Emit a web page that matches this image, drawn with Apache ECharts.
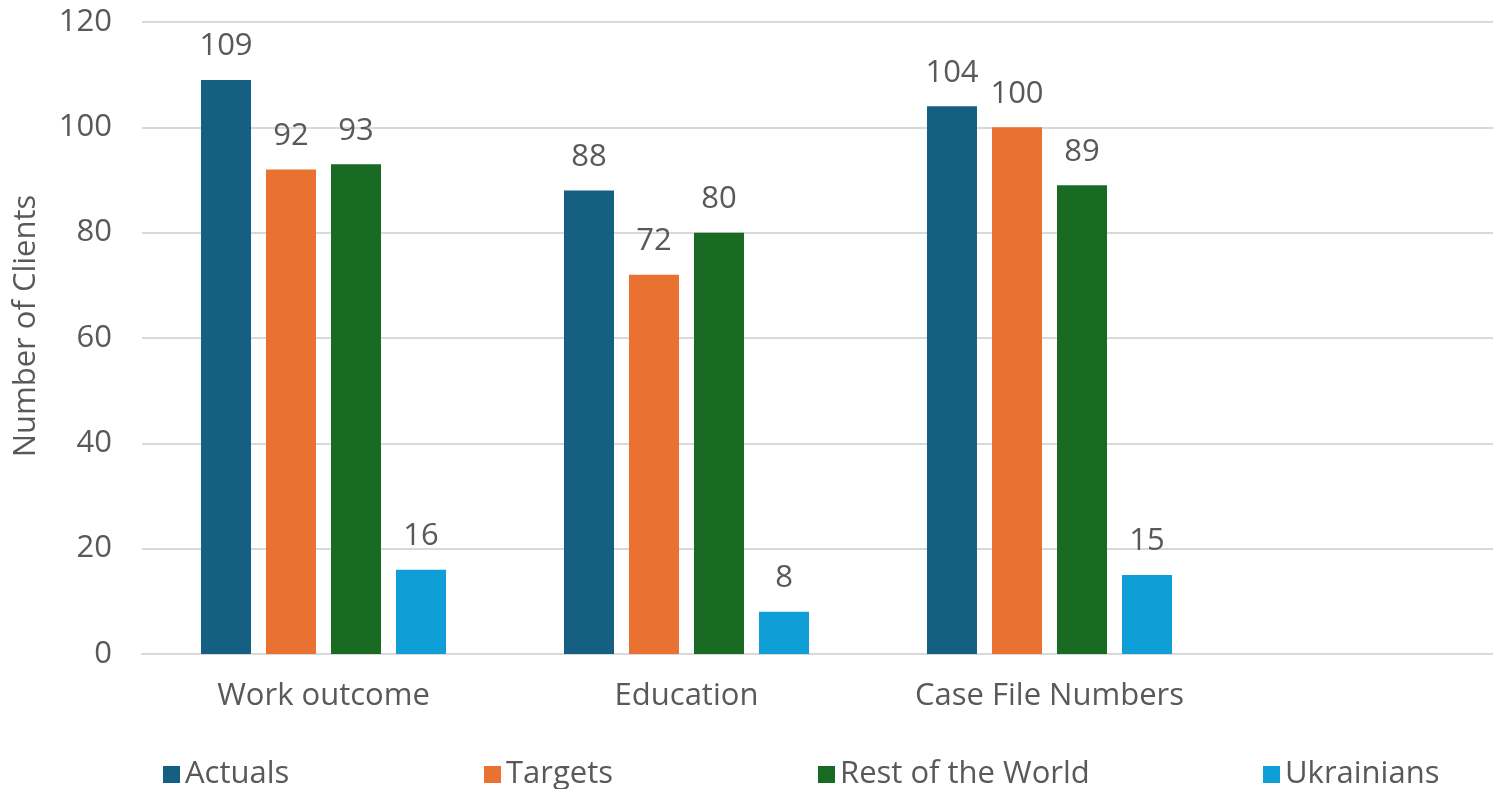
<!DOCTYPE html>
<html><head><meta charset="utf-8">
<script src="https://cdn.jsdelivr.net/npm/echarts@6/dist/echarts.min.js"></script>
<style>html,body{margin:0;padding:0;overflow:hidden;background:#fff;width:1493px;height:789px}#c{width:1600px;height:789px}</style>
</head><body><div id="c"></div>
<script>
const categories = ['Work outcome', 'Education', 'Case File Numbers', ''];
const actuals = [109, 88, 104, null];
const targets = [92, 72, 100, null];
const restOfWorld = [93, 80, 89, null];
const ukrainians = [16, 8, 15, null];
const seriesNames = ['Actuals', 'Targets', 'Rest of the World', 'Ukrainians'];
const colors = ['#156082', '#E97132', '#196B24', '#0F9ED5'];
const yTicks = [0, 20, 40, 60, 80, 100, 120];

const font = '"Open Sans", sans-serif';
const fs = 31;
const txt = '#595959';
const legendLefts = [158, 479, 813, 1258];
const chart = echarts.init(document.getElementById('c'), null, {renderer: 'canvas'});
const mk = (name, data, i) => ({
  name, type: 'bar', data, barGap: '30%', barCategoryGap: '32.5%',
  itemStyle: {color: colors[i]},
  label: {show: true, position: 'top', distance: 18, color: txt, fontSize: fs, fontFamily: font},
  emphasis: {disabled: true}
});
chart.setOption({
  animation: false,
  color: colors,
  grid: {left: 142, right: 6, top: 22, bottom: 135, containLabel: false},
  legend: seriesNames.map((n, i) => ({
    data: [n], left: legendLefts[i], top: 754, itemWidth: 17, itemHeight: 17, itemGap: 0,
    icon: 'rect', textStyle: {color: txt, fontSize: fs, fontFamily: font}
  })),
  xAxis: {
    type: 'category', data: categories,
    axisLine: {lineStyle: {color: '#d9d9d9', width: 2}},
    axisTick: {show: false},
    axisLabel: {color: txt, fontSize: fs, fontFamily: font, margin: 27}
  },
  yAxis: {
    type: 'value', min: yTicks[0], max: yTicks[yTicks.length - 1], interval: 20,
    name: 'Number of Clients', nameLocation: 'middle', nameGap: 100, nameRotate: 90,
    nameTextStyle: {color: txt, fontSize: fs, fontFamily: font, padding: [0, 0, 0, 24]},
    axisLine: {show: false}, axisTick: {show: false},
    axisLabel: {color: txt, fontSize: fs, fontFamily: font, margin: 30},
    splitLine: {lineStyle: {color: '#d9d9d9', width: 2}}
  },
  series: [mk(seriesNames[0], actuals, 0), mk(seriesNames[1], targets, 1), mk(seriesNames[2], restOfWorld, 2), mk(seriesNames[3], ukrainians, 3)]
});
</script></body></html>
